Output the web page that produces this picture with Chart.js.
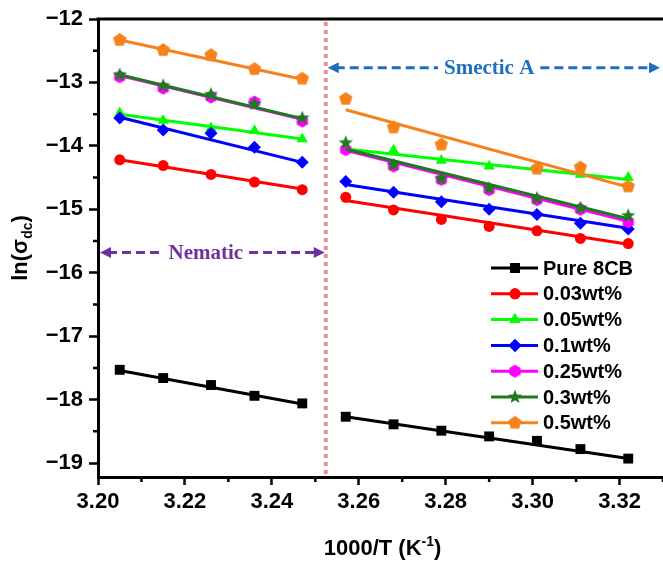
<!DOCTYPE html>
<html>
<head>
<meta charset="utf-8">
<script src="https://cdn.jsdelivr.net/npm/chart.js@4.4.1/dist/chart.umd.min.js"></script>
<style>
  html, body { margin: 0; padding: 0; background: #fff; }
</style>
</head>
<body>
<canvas id="chart" width="663" height="561"></canvas>
<script>
// series and values
const seriesNames = ['Pure 8CB', '0.03wt%', '0.05wt%', '0.1wt%', '0.25wt%', '0.3wt%', '0.5wt%'];
const seriesColors = ['#000000', '#ff0000', '#00ff00', '#0000ff', '#ff00ff', '#1d7a1d', '#f7821b'];
const nematicX = [3.205, 3.215, 3.226, 3.236, 3.247];
const smecticX = [3.257, 3.268, 3.279, 3.290, 3.301, 3.311, 3.322];

const pure8cbN = [-17.53, -17.66, -17.77, -17.94, -18.06];
const pure8cbS = [-18.27, -18.39, -18.49, -18.58, -18.65, -18.78, -18.93];
const wt003N = [-14.22, -14.31, -14.45, -14.57, -14.69];
const wt003S = [-14.81, -15.01, -15.16, -15.27, -15.34, -15.46, -15.54];
const wt005N = [-13.48, -13.60, -13.72, -13.76, -13.89];
const wt005S = [-14.02, -14.07, -14.23, -14.32, -14.37, -14.45, -14.50];
const wt01N = [-13.56, -13.75, -13.80, -14.02, -14.26];
const wt01S = [-14.56, -14.73, -14.88, -15.00, -15.08, -15.22, -15.31];
const wt025N = [-12.91, -13.09, -13.23, -13.31, -13.61];
const wt025S = [-14.06, -14.32, -14.53, -14.69, -14.85, -15.00, -15.20];
const wt03N = [-12.88, -13.05, -13.19, -13.34, -13.56];
const wt03S = [-13.95, -14.30, -14.52, -14.67, -14.83, -14.98, -15.10];
const wt05N = [-12.33, -12.49, -12.57, -12.79, -12.94];
const wt05S = [-13.26, -13.71, -13.98, null, -14.36, -14.34, -14.64];

// linear fit lines, ends
const fitNematicX = [3.205, 3.247];
const fitSmecticX = [3.257, 3.322];
const fitNematic = [[-17.54, -18.07], [-14.22, -14.68], [-13.50, -13.89], [-13.55, -14.26], [-12.89, -13.58], [-12.88, -13.57], [-12.33, -12.95]];
const fitSmectic = [[-18.27, -18.93], [-14.86, -15.55], [-14.05, -14.53], [-14.61, -15.30], [-14.07, -15.19], [-14.05, -15.15], [-13.43, -14.65]];

const xTicks = [3.20, 3.22, 3.24, 3.26, 3.28, 3.30, 3.32];
const yTicks = [-19, -18, -17, -16, -15, -14, -13, -12];
const phaseBoundary = 3.2524;

const nematicSets = [pure8cbN, wt003N, wt005N, wt01N, wt025N, wt03N, wt05N];
const smecticSets = [pure8cbS, wt003S, wt005S, wt01S, wt025S, wt03S, wt05S];

// marker shapes
function polyMarker(color, sides, r, innerR) {
    const size = 18;
    const c = document.createElement('canvas');
    c.width = size; c.height = size;
    const g = c.getContext('2d');
    g.fillStyle = color;
    g.beginPath();
    const n = innerR ? sides * 2 : sides;
    for (let k = 0; k < n; k++) {
        const a = -Math.PI / 2 + k * Math.PI * 2 / n;
        const rr = innerR && k % 2 ? innerR : r;
        const px = size / 2 + rr * Math.cos(a), py = size / 2 + rr * Math.sin(a);
        if (k === 0) g.moveTo(px, py); else g.lineTo(px, py);
    }
    g.closePath();
    g.fill();
    return c;
}
const markerStyles = [
    { style: 'rect', radius: 7 },
    { style: 'circle', radius: 5.5 },
    { style: 'triangle', radius: 6.5 },
    { style: 'rectRot', radius: 6.5 },
    { style: polyMarker('#ff00ff', 6, 6.5), radius: 6 },
    { style: polyMarker('#1d7a1d', 5, 7.5, 3.2), radius: 6 },
    { style: polyMarker('#f7821b', 5, 7), radius: 6 }
];

const datasets = [];
seriesNames.forEach(function (name, i) {
    const pts = nematicX.map(function (x, j) { return { x: x, y: nematicSets[i][j] }; })
        .concat([{ x: phaseBoundary, y: null }])
        .concat(smecticX.map(function (x, j) { return { x: x, y: smecticSets[i][j] }; }));
    datasets.push({
        label: name,
        data: pts,
        showLine: false,
        pointStyle: markerStyles[i].style,
        pointRadius: markerStyles[i].radius,
        pointBackgroundColor: seriesColors[i],
        pointBorderColor: seriesColors[i],
        pointBorderWidth: 0,
        order: 2 * (7 - i)
    });
    datasets.push({
        label: name + ' fit',
        data: [
            { x: fitNematicX[0], y: fitNematic[i][0] },
            { x: fitNematicX[1], y: fitNematic[i][1] },
            { x: phaseBoundary, y: null },
            { x: fitSmecticX[0], y: fitSmectic[i][0] },
            { x: fitSmecticX[1], y: fitSmectic[i][1] }
        ],
        showLine: true,
        spanGaps: false,
        pointRadius: 0,
        borderColor: seriesColors[i],
        borderWidth: 3,
        order: 2 * (7 - i) + 1
    });
});

const SANS = '"Liberation Sans", Arial, sans-serif';
const SERIF = '"Liberation Serif", "Times New Roman", serif';

// dashed double arrow with a label sitting in a gap of the dashes
function dashedArrow(ctx, x1, x2, y, color, text, textX) {
    ctx.save();
    ctx.font = 'bold 21px ' + SERIF;
    const tw = ctx.measureText(text).width;
    const gap = 6;
    ctx.strokeStyle = color;
    ctx.fillStyle = color;
    ctx.lineWidth = 3;
    ctx.setLineDash([9, 5]);
    ctx.beginPath();
    ctx.moveTo(x1 + 8, y); ctx.lineTo(textX - tw / 2 - gap, y);
    ctx.moveTo(textX + tw / 2 + gap, y); ctx.lineTo(x2 - 8, y);
    ctx.stroke();
    ctx.setLineDash([]);
    ctx.beginPath();
    ctx.moveTo(x1, y); ctx.lineTo(x1 + 11, y - 5.5); ctx.lineTo(x1 + 11, y + 5.5); ctx.closePath();
    ctx.moveTo(x2, y); ctx.lineTo(x2 - 11, y - 5.5); ctx.lineTo(x2 - 11, y + 5.5); ctx.closePath();
    ctx.fill();
    ctx.textAlign = 'center';
    ctx.textBaseline = 'middle';
    ctx.fillText(text, textX, y + 1);
    ctx.restore();
}

const decorPlugin = {
    id: 'decor',
    afterDraw: function (chart) {
        const ctx = chart.ctx;
        const area = chart.chartArea;
        const xs = chart.scales.x, ys = chart.scales.y;
        ctx.save();
        // top frame line
        ctx.strokeStyle = '#000';
        ctx.lineWidth = 3;
        ctx.beginPath();
        ctx.moveTo(area.left - 1.5, area.top);
        ctx.lineTo(area.right, area.top);
        ctx.stroke();
        // minor ticks
        ctx.lineWidth = 2.5;
        ctx.beginPath();
        for (let i = 0; i < xTicks.length; i++) {
            const v = xTicks[i] + 0.01;
            const px = xs.getPixelForValue(v);
            if (px > area.right) continue;
            ctx.moveTo(px, area.bottom); ctx.lineTo(px, area.bottom + 5);
        }
        for (let i = 0; i < yTicks.length - 1; i++) {
            const py = ys.getPixelForValue(yTicks[i] + 0.5);
            ctx.moveTo(area.left, py); ctx.lineTo(area.left - 5, py);
        }
        ctx.stroke();
        // phase boundary
        const bx = xs.getPixelForValue(phaseBoundary);
        ctx.strokeStyle = '#f28a8f';
        ctx.lineWidth = 4;
        ctx.setLineDash([4, 4]);
        ctx.beginPath();
        ctx.moveTo(bx, area.top + 3); ctx.lineTo(bx, area.bottom);
        ctx.stroke();
        ctx.setLineDash([]);
        ctx.restore();

        dashedArrow(ctx, area.left + 2, bx - 1, ys.getPixelForValue(-15.68), '#7030a0', 'Nematic', xs.getPixelForValue(3.2248));
        dashedArrow(ctx, bx + 2, area.right - 3, ys.getPixelForValue(-12.77), '#1f6fc0', 'Smectic A', xs.getPixelForValue(3.2900));

        // legend
        ctx.save();
        ctx.font = 'bold 20px ' + SANS;
        ctx.textBaseline = 'middle';
        seriesNames.forEach(function (name, i) {
            const y = 268 + i * 25.8;
            ctx.strokeStyle = seriesColors[i];
            ctx.lineWidth = 3;
            ctx.beginPath();
            ctx.moveTo(491, y); ctx.lineTo(538, y);
            ctx.stroke();
            const ms = markerStyles[i];
            ctx.fillStyle = seriesColors[i];
            ctx.beginPath();
            Chart.helpers.drawPoint(ctx, { pointStyle: ms.style, radius: ms.radius, rotation: 0, borderWidth: 0 }, 515, y);
            if (typeof ms.style === 'string') ctx.fill();
            ctx.fillStyle = '#000';
            ctx.fillText(name, 543, y + 1);
        });
        ctx.restore();

        // axis titles
        ctx.save();
        ctx.fillStyle = '#000';
        ctx.textBaseline = 'alphabetic';
        const big = 'bold 22px ' + SANS, small = 'bold 14px ' + SANS;
        ctx.font = big;
        const xa = '1000/T (K', xc = ')';
        ctx.font = small; const wsup = ctx.measureText('-1').width;
        ctx.font = big;
        const wx = ctx.measureText(xa).width + wsup + ctx.measureText(xc).width;
        let tx = (area.left + area.right) / 2 - wx / 2 + 2;
        const ty = 555;
        ctx.fillText(xa, tx, ty); tx += ctx.measureText(xa).width;
        ctx.font = small; ctx.fillText('-1', tx, ty - 9); tx += wsup;
        ctx.font = big; ctx.fillText(xc, tx, ty);

        ctx.translate(27, (area.top + area.bottom) / 2);
        ctx.rotate(-Math.PI / 2);
        const ya = 'ln(\u03c3', yb = 'dc', yc = ')';
        ctx.font = small; const wsub = ctx.measureText(yb).width;
        ctx.font = big;
        const wy = ctx.measureText(ya).width + wsub + ctx.measureText(yc).width;
        let sx = -wy / 2;
        ctx.fillText(ya, sx, 0); sx += ctx.measureText(ya).width;
        ctx.font = small; ctx.fillText(yb, sx, 5); sx += wsub;
        ctx.font = big; ctx.fillText(yc, sx, 0);
        ctx.restore();
    }
};

new Chart(document.getElementById('chart'), {
    type: 'scatter',
    data: { datasets: datasets },
    options: {
        responsive: false,
        animation: false,
        devicePixelRatio: 1,
        layout: { autoPadding: false, padding: { top: 19, right: 0, left: 0, bottom: 0 } },
        plugins: { legend: { display: false }, tooltip: { enabled: false } },
        scales: {
            x: {
                type: 'linear',
                min: 3.20,
                max: 3.33,
                afterBuildTicks: function (s) { s.ticks = xTicks.map(function (v) { return { value: v }; }); },
                afterFit: function (s) { s.height = 84; s.paddingRight = 0; s.paddingLeft = 0; },
                ticks: {
                    callback: function (v) { return v.toFixed(2); },
                    font: { family: SANS, size: 22, weight: 'bold' },
                    color: '#000',
                    padding: 4,
                    maxRotation: 0,
                    autoSkip: false
                },
                grid: { drawOnChartArea: false, tickLength: 8, tickWidth: 2.5, tickColor: '#000' },
                border: { width: 3, color: '#000' }
            },
            y: {
                type: 'linear',
                min: -19.22,
                max: -12,
                afterBuildTicks: function (s) { s.ticks = yTicks.map(function (v) { return { value: v }; }); },
                afterFit: function (s) { s.width = 98; s.paddingTop = 0; s.paddingBottom = 0; },
                ticks: {
                    callback: function (v) { return '\u2212' + Math.abs(v); },
                    font: { family: SANS, size: 22, weight: 'bold' },
                    color: '#000',
                    padding: 6,
                    autoSkip: false
                },
                grid: { drawOnChartArea: false, tickLength: 9, tickWidth: 2.5, tickColor: '#000' },
                border: { width: 3, color: '#000' }
            }
        }
    },
    plugins: [decorPlugin]
});
</script>
</body>
</html>
